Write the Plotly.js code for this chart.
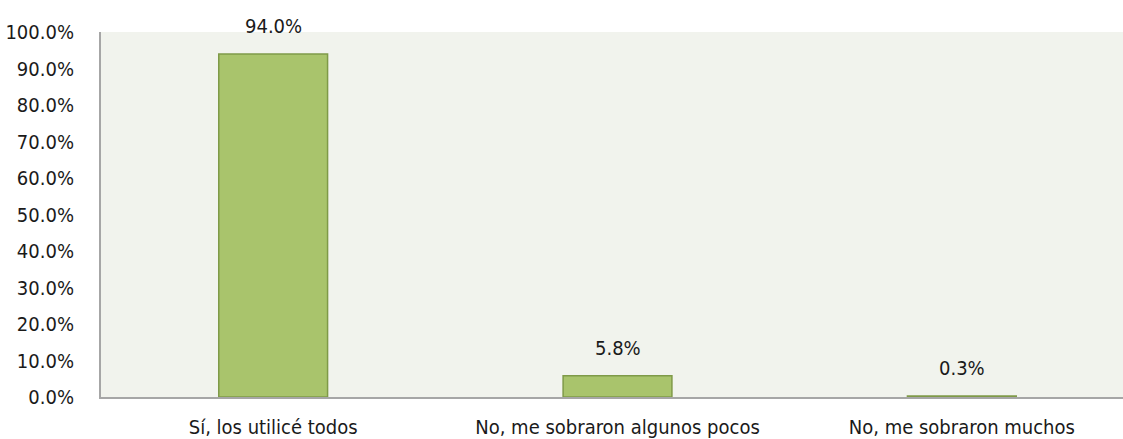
<!DOCTYPE html>
<html><head><meta charset="utf-8">
<script src="https://cdn.plot.ly/plotly-3.0.1.min.js"></script>
<style>html,body{margin:0;padding:0;background:#fff;}#chart{width:1123px;height:439px;}</style>
</head><body><div id="chart"></div>
<script>
const categories = ["Sí, los utilicé todos", "No, me sobraron algunos pocos", "No, me sobraron muchos"];
const values = [94.0, 5.8, 0.3];
const valueLabels = ["94.0%", "5.8%", "0.3%"];
const yTickVals = [0,10,20,30,40,50,60,70,80,90,100];
const yTickText = ["0.0%","10.0%","20.0%","30.0%","40.0%","50.0%","60.0%","70.0%","80.0%","90.0%","100.0%"];

const FONT = '"DejaVu Sans Condensed", "Liberation Sans Narrow", sans-serif';
const FS = 20;

const trace = {
  type: 'bar', x: categories, y: values, width: 0.316,
  marker: {color: '#A9C46C', line: {color: '#7F9A48', width: 1.5}},
  hoverinfo: 'none'
};
const annotations = categories.map((c, i) => ({
  x: c, y: values[i], xref: 'x', yref: 'y', text: valueLabels[i],
  showarrow: false, yanchor: 'bottom', yshift: 14,
  font: {family: FONT, size: FS, color: '#1a1a1a'}
}));
const layout = {
  width: 1123, height: 439,
  margin: {l: 101, r: 0, t: 32, b: 42},
  paper_bgcolor: '#ffffff', plot_bgcolor: '#F1F3ED',
  font: {family: FONT, size: FS, color: '#1a1a1a'},
  showlegend: false,
  xaxis: {
    type: 'category', range: [-0.5, 2.468], showgrid: false, zeroline: false,
    showline: true, linecolor: '#A6A6A6', linewidth: 2, ticks: '', ticklabelstandoff: 11,
    tickfont: {family: FONT, size: FS, color: '#1a1a1a'}, fixedrange: true
  },
  yaxis: {
    range: [0, 100], tickvals: yTickVals, ticktext: yTickText, showgrid: false,
    zeroline: false, showline: true, linecolor: '#A6A6A6', linewidth: 2, ticks: '',
    ticklabelstandoff: 21, tickfont: {family: FONT, size: FS, color: '#1a1a1a'}, fixedrange: true
  },
  annotations: annotations
};
Plotly.newPlot('chart', [trace], layout, {displayModeBar: false, staticPlot: true});
</script></body></html>
